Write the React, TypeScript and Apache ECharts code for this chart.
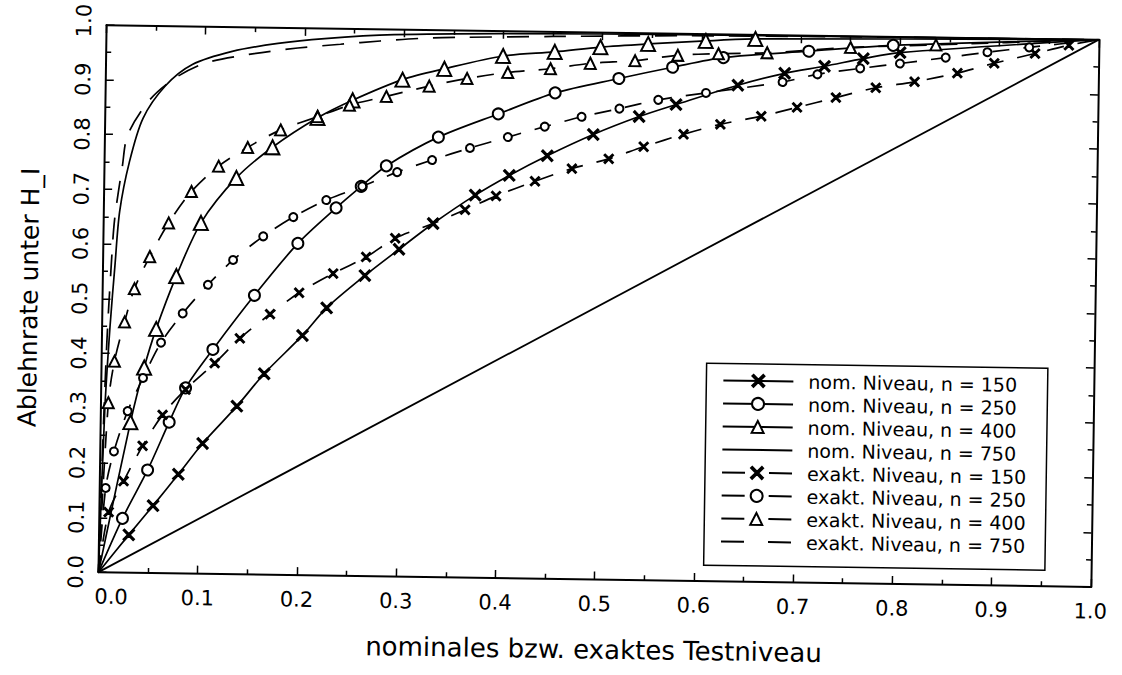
import React, { useEffect, useRef } from "react";
import * as echarts from "echarts";

const FONT = '"DejaVu Sans", "Liberation Sans", sans-serif';
const X_NAME = "nominales bzw. exaktes Testniveau";
const Y_NAME = "Ablehnrate unter H_I";

const LEGEND_NAMES = [
  "nom. Niveau, n = 150",
  "nom. Niveau, n = 250",
  "nom. Niveau, n = 400",
  "nom. Niveau, n = 750",
  "exakt. Niveau, n = 150",
  "exakt. Niveau, n = 250",
  "exakt. Niveau, n = 400",
  "exakt. Niveau, n = 750",
];

const diagonal: number[][] = [[0, 0], [1, 1]];

const nom150: number[][] = [
  [0, 0], [0.03, 0.069], [0.054, 0.123], [0.079, 0.181], [0.103, 0.238], [0.137, 0.307],
  [0.164, 0.367], [0.202, 0.438], [0.226, 0.489], [0.264, 0.549], [0.298, 0.598],
  [0.332, 0.646], [0.374, 0.699], [0.408, 0.736], [0.446, 0.773], [0.492, 0.813],
  [0.538, 0.847], [0.575, 0.87], [0.637, 0.907], [0.684, 0.93], [0.724, 0.944],
  [0.763, 0.959], [0.8, 0.971], [1, 1],
];

const exakt150: number[][] = [
  [0, 0], [0.0094, 0.11], [0.024, 0.167], [0.0426, 0.232], [0.0622, 0.289], [0.085, 0.336],
  [0.114, 0.385], [0.139, 0.431], [0.169, 0.476], [0.198, 0.516], [0.232, 0.552],
  [0.265, 0.583], [0.294, 0.618], [0.332, 0.646], [0.364, 0.672], [0.395, 0.698],
  [0.434, 0.726], [0.471, 0.75], [0.508, 0.769], [0.543, 0.792], [0.583, 0.816],
  [0.62, 0.835], [0.661, 0.851], [0.697, 0.868], [0.736, 0.887], [0.776, 0.906],
  [0.815, 0.918], [0.858, 0.935], [0.895, 0.954], [0.936, 0.973], [0.97, 0.989], [1, 1],
];

const nom250: number[][] = [
  [0, 0], [0.0234, 0.099], [0.048, 0.188], [0.069, 0.276], [0.085, 0.339], [0.112, 0.41],
  [0.153, 0.51], [0.196, 0.606], [0.234, 0.672], [0.259, 0.712], [0.284, 0.75],
  [0.336, 0.804], [0.396, 0.848], [0.453, 0.888], [0.517, 0.916], [0.571, 0.938],
  [0.622, 0.957], [0.708, 0.971], [0.793, 0.984], [1, 1],
];

const exakt250: number[][] = [
  [0, 0], [0.006, 0.154], [0.0138, 0.221], [0.027, 0.295], [0.042, 0.356], [0.0596, 0.421],
  [0.081, 0.475], [0.106, 0.528], [0.131, 0.574], [0.161, 0.618], [0.191, 0.654],
  [0.224, 0.686], [0.26, 0.712], [0.295, 0.739], [0.33, 0.762], [0.368, 0.785],
  [0.406, 0.806], [0.443, 0.826], [0.48, 0.845], [0.518, 0.861], [0.557, 0.878],
  [0.605, 0.892], [0.682, 0.914], [0.717, 0.929], [0.76, 0.941], [0.8, 0.951],
  [0.846, 0.963], [0.888, 0.974], [0.93, 0.984], [1, 1],
];

const nom400: number[][] = [
  [0, 0], [0.03, 0.275], [0.043, 0.375], [0.0545, 0.446], [0.074, 0.543], [0.098, 0.641],
  [0.133, 0.724], [0.169, 0.781], [0.214, 0.836], [0.249, 0.869], [0.299, 0.908],
  [0.341, 0.929], [0.4, 0.954], [0.452, 0.963], [0.498, 0.973], [0.546, 0.98],
  [0.604, 0.987], [0.654, 0.992], [1, 1],
];

const exakt400: number[][] = [
  [0, 0], [0.0074, 0.31], [0.013, 0.386], [0.0226, 0.458], [0.032, 0.519], [0.047, 0.578],
  [0.0655, 0.64], [0.088, 0.698], [0.115, 0.745], [0.144, 0.78], [0.177, 0.813],
  [0.214, 0.838], [0.246, 0.86], [0.283, 0.877], [0.326, 0.897], [0.364, 0.912],
  [0.405, 0.924], [0.448, 0.932], [0.488, 0.943], [0.533, 0.949], [0.576, 0.96],
  [0.617, 0.964], [0.666, 0.967], [0.75, 0.979], [0.836, 0.986], [1, 1],
];

const nom750: number[][] = [
  [0, 0], [0.004, 0.3], [0.008, 0.45], [0.012, 0.56], [0.016, 0.66], [0.025, 0.75],
  [0.038, 0.83], [0.06, 0.89], [0.087, 0.93], [0.127, 0.955], [0.173, 0.971],
  [0.22, 0.981], [0.29, 0.99], [0.4, 0.995], [0.6, 0.998], [1, 1],
];

const exakt750: number[][] = [
  [0, 0], [0.002, 0.2], [0.005, 0.42], [0.008, 0.55], [0.011, 0.645], [0.018, 0.742],
  [0.023, 0.8], [0.044, 0.863], [0.07, 0.905], [0.1, 0.933], [0.144, 0.95],
  [0.193, 0.963], [0.236, 0.971], [0.276, 0.978], [0.317, 0.984], [0.36, 0.987],
  [0.45, 0.991], [0.587, 0.996], [0.8, 0.999], [1, 1],
];

const X_SYMBOL =
  "path://M0,1L1,0L5,4L9,0L10,1L6,5L10,9L9,10L5,6L1,10L0,9L4,5Z";

type Def = {
  name: string;
  pts: number[][];
  dash: number[] | null;
  symbol: string;
  size: number;
  legendDash?: number[];
};

const DEFS: Def[] = [
  { name: LEGEND_NAMES[0], pts: nom150, dash: null, symbol: X_SYMBOL, size: 11 },
  { name: LEGEND_NAMES[1], pts: nom250, dash: null, symbol: "emptyCircle", size: 11 },
  { name: LEGEND_NAMES[2], pts: nom400, dash: null, symbol: "emptyTriangle", size: 14 },
  { name: LEGEND_NAMES[3], pts: nom750, dash: null, symbol: "none", size: 0 },
  { name: LEGEND_NAMES[4], pts: exakt150, dash: [17, 14], symbol: X_SYMBOL, size: 9, legendDash: [23, 24] },
  { name: LEGEND_NAMES[5], pts: exakt250, dash: [17, 14], symbol: "emptyCircle", size: 8, legendDash: [23, 24] },
  { name: LEGEND_NAMES[6], pts: exakt400, dash: [17, 14], symbol: "emptyTriangle", size: 11, legendDash: [23, 24] },
  { name: LEGEND_NAMES[7], pts: exakt750, dash: [22, 15], symbol: "none", size: 0, legendDash: [23, 24] },
];

function buildData(pts: number[][]) {
  return pts.map((p, i) =>
    i === 0 || i === pts.length - 1 ? { value: p, symbol: "none" } : { value: p }
  );
}

const tickStyle = { color: "#000", width: 1.5 };

function axisCommon(position: string, showLabels: boolean) {
  return {
    type: "value",
    min: 0,
    max: 1,
    interval: 0.1,
    position,
    axisLine: { show: true, onZero: false, lineStyle: { color: "#000", width: 2 } },
    axisTick: { show: true, inside: true, length: 8, lineStyle: tickStyle },
    minorTick: { show: true, splitNumber: 2, length: 5, lineStyle: tickStyle },
    splitLine: { show: false },
    minorSplitLine: { show: false },
    axisLabel: { show: showLabels },
  } as any;
}

export default function App() {
  const ref = useRef<HTMLDivElement>(null);

  useEffect(() => {
    if (!ref.current) return;
    const chart = echarts.init(ref.current, null, { renderer: "svg" });

    const xBottom = axisCommon("bottom", true);
    xBottom.axisLabel = {
      show: true,
      margin: 14,
      fontSize: 21,
      fontFamily: FONT,
      color: "#000",
      formatter: (v: number) => (Math.abs(v) < 1e-9 ? "{a|0.0}" : v.toFixed(1)),
      rich: { a: { padding: [0, 0, 0, 26], fontSize: 21, fontFamily: FONT, color: "#000" } },
    };
    xBottom.name = X_NAME;
    xBottom.nameLocation = "middle";
    xBottom.nameGap = 57;
    xBottom.nameTextStyle = { fontSize: 26, fontFamily: FONT, color: "#000" };

    const yLeft = axisCommon("left", true);
    yLeft.axisLabel = {
      show: true,
      rotate: 90,
      margin: 12,
      fontSize: 21,
      fontFamily: FONT,
      color: "#000",
      formatter: (v: number) => (Math.abs(v - 1) < 1e-9 ? "{b|1.0}" : v.toFixed(1)),
      rich: { b: { padding: [0, 0, 0, 8], fontSize: 21, fontFamily: FONT, color: "#000" } },
    };
    yLeft.name = Y_NAME;
    yLeft.nameLocation = "middle";
    yLeft.nameGap = 61;
    yLeft.nameTextStyle = { fontSize: 25, fontFamily: FONT, color: "#000" };

    const series: any[] = [
      {
        name: "diagonal",
        type: "line",
        data: diagonal,
        symbol: "none",
        lineStyle: { color: "#000", width: 1.8 },
        silent: true,
        z: 1,
      },
    ];

    DEFS.forEach((d) => {
      series.push({
        name: d.name,
        type: "line",
        data: buildData(d.pts),
        smooth: 0.3,
        symbol: d.symbol,
        symbolSize: d.size,
        showSymbol: d.symbol !== "none",
        itemStyle: { color: "#000", borderColor: "#000", borderWidth: 1.6 },
        lineStyle: { color: "#000", width: 1.7, type: d.dash ? d.dash : "solid" },
        silent: true,
        emphasis: { disabled: true },
        z: 2,
      });
    });

    const legendData = DEFS.map((d) => {
      const item: any = { name: d.name };
      if (d.legendDash) item.lineStyle = { type: d.legendDash };
      if (d.symbol === "none") item.itemStyle = { opacity: 0 };
      return item;
    });

    chart.setOption({
      animation: false,
      backgroundColor: "#fff",
      textStyle: { fontFamily: FONT, color: "#000" },
      grid: { left: 82, right: 18, top: 23, bottom: 78, containLabel: false },
      xAxis: [xBottom, axisCommon("top", false)],
      yAxis: [yLeft, axisCommon("right", false)],
      legend: {
        orient: "vertical",
        left: 699,
        top: 353,
        padding: [7, 20, 14, 16],
        itemWidth: 70,
        itemHeight: 15,
        itemGap: 3,
        backgroundColor: "#fff",
        borderColor: "#000",
        borderWidth: 1.5,
        selectedMode: false,
        textStyle: {
          fontSize: 19,
          fontFamily: FONT,
          color: "#000",
          padding: [0, 0, 0, 10],
          lineHeight: 20,
        },
        data: legendData,
      },
      series,
    });

    return () => chart.dispose();
  }, []);

  return (
    <div
      style={{
        position: "fixed",
        left: 0,
        top: 0,
        width: 1122,
        height: 675,
        overflow: "hidden",
        background: "#fff",
      }}
    >
      <div
        ref={ref}
        style={{
          position: "absolute",
          left: 8,
          top: 8,
          width: 1106,
          height: 659,
          transform: "rotate(0.85deg)",
        }}
      />
    </div>
  );
}
